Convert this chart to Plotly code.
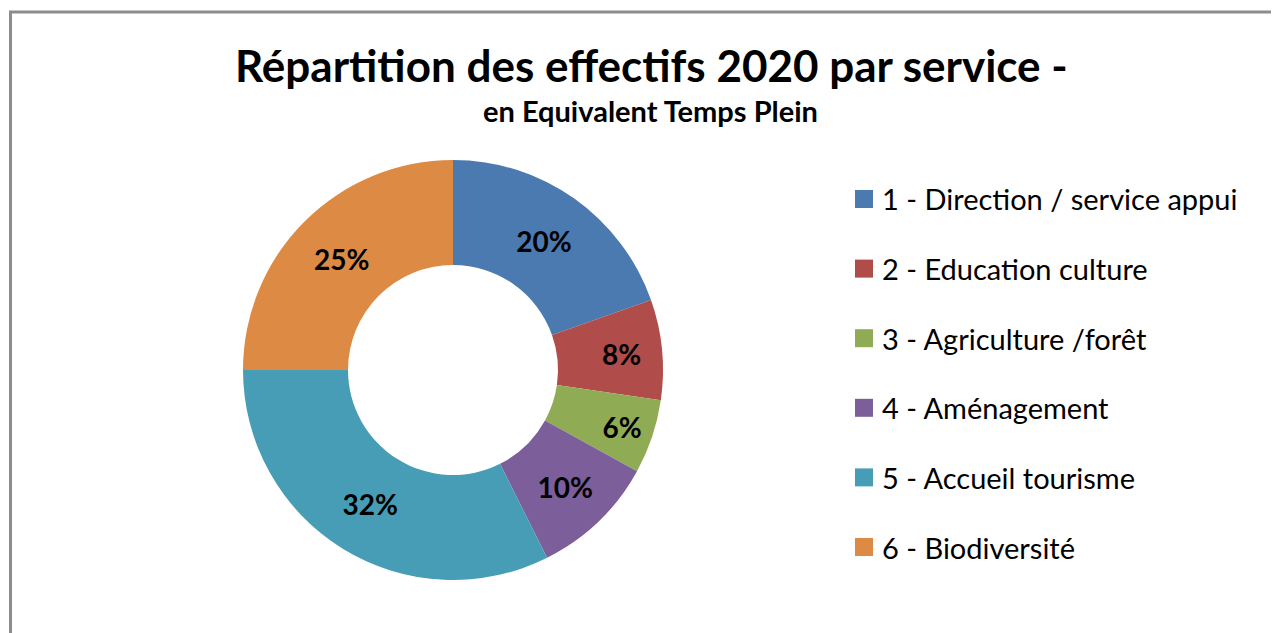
import plotly.graph_objects as go

# Data
categories = [
    "1 - Direction / service appui",
    "2 - Education culture",
    "3 - Agriculture /forêt",
    "4 - Aménagement",
    "5 - Accueil tourisme",
    "6 - Biodiversité",
]
values = [19.6, 7.7, 5.7, 9.6, 32.4, 25.0]
colors = ["#4a7aaf", "#b04c4a", "#8fac55", "#7b5e9a", "#479db5", "#dd8b44"]

title_text = "Répartition des effectifs 2020 par service -"
subtitle_text = "en Equivalent Temps Plein"

W, H = 1279, 633
OFF = 8  # page body margin offset
FONT = "Lato, Carlito, 'Open Sans', sans-serif"


def px(x):
    return (x - OFF) / W


def py(y):
    return 1 - (y - OFF) / H


fig = go.Figure()
fig.add_trace(go.Pie(
    labels=categories,
    values=values,
    marker=dict(colors=colors, line=dict(width=0)),
    hole=0.5,
    sort=False,
    direction="clockwise",
    rotation=0,
    texttemplate="%{percent:.0%}",
    textposition="inside",
    insidetextorientation="horizontal",
    textfont=dict(family=FONT, size=28, color="black", weight="bold"),
    domain=dict(x=[px(453 - 210), px(453 + 210)], y=[py(580), py(160)]),
    showlegend=False,
    hoverinfo="label+percent",
))

shapes = [
    dict(type="rect", xref="paper", yref="paper",
         x0=px(10.5), x1=1.05, y0=-0.05, y1=py(12),
         line=dict(color="#8c8c8c", width=3), fillcolor="rgba(0,0,0,0)", layer="below")
]
annotations = [
    dict(text=f"<b>{title_text}</b>", x=px(651), y=py(65), xref="paper", yref="paper",
         showarrow=False, xanchor="center", yanchor="middle",
         font=dict(family=FONT, size=44, color="black")),
    dict(text=f"<b>{subtitle_text}</b>", x=px(650), y=py(111), xref="paper", yref="paper",
         showarrow=False, xanchor="center", yanchor="middle",
         font=dict(family=FONT, size=29, color="black")),
]

# custom legend
leg_top = 199
leg_step = 69.6
for i, (cat, col) in enumerate(zip(categories, colors)):
    yc = leg_top + i * leg_step
    shapes.append(dict(type="rect", xref="paper", yref="paper",
                       x0=px(855), x1=px(873), y0=py(yc + 9), y1=py(yc - 9),
                       line=dict(width=0), fillcolor=col))
    annotations.append(dict(text=cat, x=px(880), y=py(yc), xref="paper", yref="paper",
                            showarrow=False, xanchor="left", yanchor="middle",
                            font=dict(family=FONT, size=29, color="black")))

fig.update_layout(
    width=W, height=H,
    margin=dict(l=0, r=0, t=0, b=0),
    paper_bgcolor="white",
    plot_bgcolor="white",
    shapes=shapes,
    annotations=annotations,
)

fig.write_html("out.html")
